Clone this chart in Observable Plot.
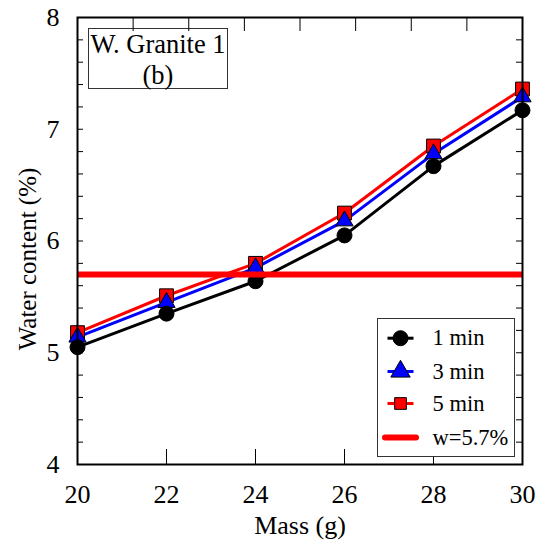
<!DOCTYPE html>
<html>
<head>
<meta charset="utf-8">
<script src="https://cdn.jsdelivr.net/npm/d3@7"></script>
<script src="https://cdn.jsdelivr.net/npm/@observablehq/plot@0.6"></script>
<style>
  html, body { margin: 0; padding: 0; background: white; }
  svg text { font-family: "Liberation Serif", "Times New Roman", serif !important; }
</style>
</head>
<body>
<div id="chart"></div>
<script>
// ---- data ----
const mass = [20, 22, 24, 26, 28, 30];
const w1min = [5.05, 5.35, 5.64, 6.05, 6.67, 7.17];
const w3min = [5.14, 5.45, 5.76, 6.18, 6.78, 7.29];
const w5min = [5.18, 5.51, 5.80, 6.25, 6.85, 7.36];
const seriesNames = ["1 min", "3 min", "5 min"];
const threshold = 5.7;
const thresholdLabel = "w=5.7%";
const xTickLabels = [20, 22, 24, 26, 28, 30];
const yTickLabels = [4, 5, 6, 7, 8];
const xBottomTicks = [22, 24, 26, 28];
const xTopTicks = [21.25, 22.5, 23.75, 25, 26.25, 27.5, 28.75];
const yMinorTicks = [4.2,4.4,4.6,4.8,5,5.2,5.4,5.6,5.8,6,6.2,6.4,6.6,6.8,7,7.2,7.4,7.6,7.8];
const titleLines = ["W. Granite 1", "(b)"];
const xLabel = "Mass (g)";
const yLabel = "Water content (%)";

// ---- layout ----
const width = 540, height = 542;
const mL = 77, mR = 18, mT = 17, mB = 78;
const W = width - mL - mR, H = height - mT - mB;
const font = "'Liberation Serif', 'Times New Roman', serif";

const series = [
  {name: seriesNames[2], values: w5min, color: "#ff0000", symbol: "square", r: 7.8},
  {name: seriesNames[1], values: w3min, color: "#0000ff", symbol: "triangle", r: 6.4},
  {name: seriesNames[0], values: w1min, color: "#000000", symbol: "circle", r: 7.5}
];
const table = series.flatMap(s => mass.map((m, i) => ({series: s.name, mass: m, w: s.values[i]})));

// helper: box given in frame-relative pixels (left, top, width, height)
function box(l, t, bw, bh, opts) {
  return Plot.frame({insetLeft: l, insetTop: t, insetRight: W - l - bw, insetBottom: H - t - bh, ...opts});
}

// legend layout (frame-relative)
const legL = 300, legT = 301, legW = 137, legH = 138;
const rowY = [320.7, 354, 386, 420];
const symX = 323, textX = 355;
const legendRows = [
  {label: seriesNames[0], color: "#000000", symbol: "circle", r: 7.5},
  {label: seriesNames[1], color: "#0000ff", symbol: "triangle", r: 7.2},
  {label: seriesNames[2], color: "#ff0000", symbol: "square", r: 6.6}
];

const marks = [];
// title box
marks.push(box(11, 11, 139, 60, {stroke: "#333", strokeWidth: 1}));
marks.push(Plot.text([titleLines[0]], {frameAnchor: "top-left", dx: 80.5, dy: 27, text: d => d, fontSize: 26.5, fontFamily: font, lineAnchor: "middle", textAnchor: "middle", fill: "black"}));
marks.push(Plot.text([titleLines[1]], {frameAnchor: "top-left", dx: 80.5, dy: 58, text: d => d, fontSize: 26.5, fontFamily: font, lineAnchor: "middle", textAnchor: "middle", fill: "black"}));

// inward ticks
marks.push(Plot.tickY(yMinorTicks, {y: d => d, insetRight: W - 6, stroke: "black", strokeWidth: 1}));
marks.push(Plot.tickY(yMinorTicks, {y: d => d, insetLeft: W - 6, stroke: "black", strokeWidth: 1}));
marks.push(Plot.tickX(xBottomTicks, {x: d => d, insetTop: H - 15, stroke: "black", strokeWidth: 1}));
marks.push(Plot.tickX(xTopTicks, {x: d => d, insetBottom: H - 14, stroke: "black", strokeWidth: 1}));

// series
for (const s of series) {
  const d = table.filter(t => t.series === s.name);
  marks.push(Plot.line(d, {x: "mass", y: "w", stroke: s.color, strokeWidth: 3}));
}
for (const s of series) {
  const d = table.filter(t => t.series === s.name);
  marks.push(Plot.dot(d, {x: "mass", y: "w", symbol: s.symbol, r: s.r, fill: s.color, stroke: "black", strokeWidth: 1}));
}
// threshold line
marks.push(Plot.ruleY([threshold], {stroke: "#ff0000", strokeWidth: 6}));

// legend
marks.push(box(legL, legT, legW, legH, {fill: "white", stroke: "#333", strokeWidth: 1}));
legendRows.forEach((row, i) => {
  marks.push(box(symX - 13, rowY[i] - 1.5, 26, 3, {fill: row.color}));
  marks.push(Plot.dot([row], {frameAnchor: "top-left", dx: symX, dy: rowY[i], symbol: row.symbol, r: row.r, fill: row.color, stroke: "black", strokeWidth: 1}));
  marks.push(Plot.text([row], {frameAnchor: "top-left", dx: textX, dy: rowY[i], text: d => d.label, fontSize: 22.5, fontFamily: font, textAnchor: "start", lineAnchor: "middle", fill: "black"}));
});
marks.push(box(symX - 18.5, rowY[3] - 3, 37, 6, {fill: "#ff0000", rx: 3}));
marks.push(Plot.text([thresholdLabel], {frameAnchor: "top-left", dx: textX, dy: rowY[3], text: d => d, fontSize: 22.5, fontFamily: font, textAnchor: "start", lineAnchor: "middle", fill: "black"}));

// border
marks.push(Plot.frame({stroke: "black", strokeWidth: 2}));

// axes labels
marks.push(Plot.axisX({ticks: xTickLabels, tickSize: 0, tickPadding: 20, fontSize: 26, fontFamily: font, fontVariant: "normal", label: null, tickFormat: d => String(d)}));
marks.push(Plot.axisY({ticks: yTickLabels, tickSize: 0, tickPadding: 18, fontSize: 26, fontFamily: font, fontVariant: "normal", label: null, tickFormat: d => String(d)}));
marks.push(Plot.text([xLabel], {frameAnchor: "bottom", dy: 61, text: d => d, fontSize: 26, fontFamily: font, lineAnchor: "middle", textAnchor: "middle", fill: "black"}));
marks.push(Plot.text([yLabel], {frameAnchor: "left", dx: -50, dy: 18, rotate: -90, text: d => d, fontSize: 25, fontFamily: font, lineAnchor: "middle", textAnchor: "middle", fill: "black"}));

const chart = Plot.plot({
  width, height,
  marginLeft: mL, marginRight: mR, marginTop: mT, marginBottom: mB,
  style: {fontFamily: font, fontSize: "25px", background: "white", color: "black"},
  x: {domain: [20, 30], axis: null},
  y: {domain: [4, 8], axis: null},
  marks
});
document.getElementById("chart").appendChild(chart);
</script>
</body>
</html>
